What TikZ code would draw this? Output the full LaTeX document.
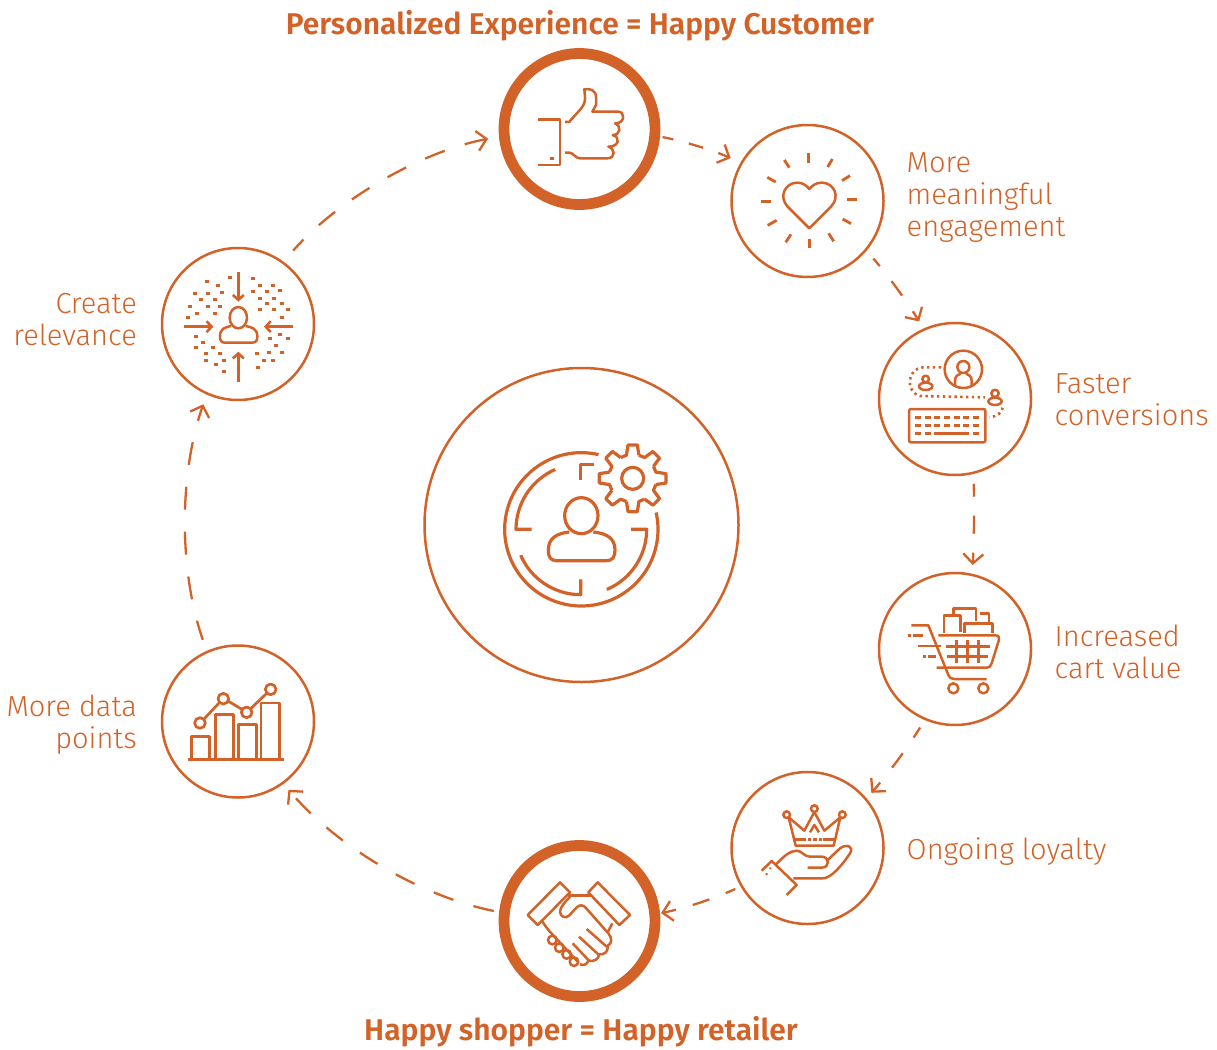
\documentclass[tikz,border=0pt]{standalone}
\usepackage{fontspec}
\setmainfont{Fira Sans Light}
\newfontfamily\headfont{Fira Sans SemiBold}
\usetikzlibrary{arrows.meta,calc}
\definecolor{org}{HTML}{D26228}
\tikzset{
  ring/.style={circle,draw=org,line width=2.5pt,minimum size=152pt,inner sep=0pt,outer sep=0pt},
  thick ring/.style={circle,draw=org,line width=10.8pt,minimum size=151pt,inner sep=0pt,outer sep=0pt},
  conn/.style={draw=org,line width=2.3pt,-{Straight Barb[length=9.5pt,width=20pt,line width=2.3pt]},looseness=0.85},
  lab/.style={text=org,font=\fontsize{29}{32}\selectfont,inner sep=0pt},
  head/.style={text=org,font=\headfont\fontsize{30}{32}\selectfont,inner sep=0pt},
  ico/.style={draw=org,line width=2.5pt,line join=round,line cap=butt},
  zoomed/.style={x=0.33333pt,y=-0.33333pt},
}
\begin{document}
\begin{tikzpicture}[x=1pt,y=-1pt]
\useasboundingbox (0,0) rectangle (1217,1049);
% circles
\node[thick ring] (top) at (579.5,129) {};
\node[ring] (heart) at (807.5,201) {};
\node[ring] (faster) at (955,399) {};
\node[ring] (cart) at (955,649) {};
\node[ring] (crown) at (807.5,848) {};
\node[thick ring] (hand) at (579.5,921) {};
\node[ring] (data) at (238,721.5) {};
\node[ring] (rel) at (238,324) {};
\node[circle,draw=org,line width=2.5pt,minimum size=314pt,inner sep=0pt,outer sep=0pt] (hub) at (581.5,525) {};
% connectors
\draw[conn,dash pattern=on 15pt off 16pt,dash phase=4pt,shorten <=8pt,shorten >=12pt] (top.-5.5) to[bend left=6.5] (heart.150.5);
\draw[conn,dash pattern=on 18pt off 19pt,dash phase=8pt,shorten <=11.5pt,shorten >=9.5pt] (heart.-40.5) to[bend left=5] (faster.114.1);
\draw[conn,dash pattern=on 18pt off 19pt,dash phase=5pt,shorten <=11pt,shorten >=10pt] (faster.-76.9) to[bend left=2.5] (cart.77.2);
\draw[conn,dash pattern=on 18pt off 19pt,dash phase=6pt,shorten <=10pt,shorten >=8.5pt] (cart.-113.8) to[bend left=5] (crown.40.6);
\draw[conn,dash pattern=on 17.5pt off 17.5pt,dash phase=7pt,shorten <=7pt,shorten >=6.5pt] (crown.-150.4) to[bend left=6.6] (hand.5.5);
\draw[conn,dash pattern=on 21pt off 21pt,shorten <=10.8pt,shorten >=8.9pt] (hand.174.5) to[bend left=19] (data.-54.5);
\draw[conn,dash pattern=on 23pt off 22pt,dash phase=3pt,shorten <=13pt,shorten >=11.5pt] (data.114.5) to[bend left=19.2] (rel.-114.9);
\draw[conn,dash pattern=on 21pt off 21pt,dash phase=6pt,shorten <=16pt,shorten >=16.5pt] (rel.54.1) to[bend left=18.8] (top.185.5);
% labels
\node[head,anchor=base] (t1) at (580,35) {Personalized Experience = Happy Customer};
\node[head,anchor=base] (t2) at (581,1040) {Happy shopper = Happy retailer};
\node[lab,anchor=north west,align=left] (l1) at (906.5,152) {More\\meaningful\\engagement};
\node[lab,anchor=north west,align=left] (l2) at (1054.5,373) {Faster\\conversions};
\node[lab,anchor=north west,align=left] (l3) at (1054.5,625) {Increased\\cart value};
\node[lab,anchor=north west,align=left] (l4) at (906.5,837) {Ongoing loyalty};
\node[lab,anchor=north east,align=right] (l5) at (137,695) {More data\\points};
\node[lab,anchor=north east,align=right] (l6) at (137,293) {Create\\relevance};
% thumb + heart (zoom 1)
\begin{scope}[shift={(490,40)},zoomed]
\draw[ico] (144,238)--(210,238)--(210,375)--(144,375);
\fill[org] (180,351) rectangle (191,359);
\draw[ico] (225,246)--(238,246) .. controls (250,228) and (280,205) .. (284,185) .. controls (287,170) and (283,160) .. (283,148) .. controls (300,145) and (318,150) .. (318,172) -- (318,195) -- (307,215) -- (385,215) .. controls (405,215) and (407,250) .. (375,250) .. controls (395,258) and (392,285) .. (368,285) .. controls (392,292) and (388,320) .. (355,320) .. controls (375,325) and (378,355) .. (352,355) -- (270,355) .. controls (255,355) and (250,338) .. (238,338) -- (225,338);
\draw[ico] (958,565)--(893,500) .. controls (865,470) and (885,428) .. (922,428) .. controls (940,428) and (950,438) .. (958,447) .. controls (966,438) and (976,428) .. (995,428) .. controls (1032,428) and (1052,470) .. (1023,500) -- cycle;
\foreach \a/\b/\c/\d in {955/340/955/368,883/360/898/383,1027/357/1013/381,832/412/857/426,1080/407/1056/422,814/484/843/484,1072/478/1101/478,833/556/860/541,1083/551/1058/537,887/607/903/583,1031/604/1016/580,959/597/959/625}
  \draw[ico,line width=2.8pt] (\a,\b)--(\c,\d);
\end{scope}
% keyboard (zoom 2)
\begin{scope}[shift={(870,315)},zoomed]
\draw[ico] (280,163) circle[radius=56];
\draw[ico] (280,156) circle[radius=18];
\draw[ico] (255,215)--(255,197) .. controls (255,183) and (265,178) .. (272,176);
\draw[ico] (305,215)--(305,197) .. controls (305,183) and (295,178) .. (288,176);
\draw[ico] (167,192) circle[radius=10];
\draw[ico] (167,214) ellipse[x radius=20,y radius=11];
\draw[ico] (375,235) circle[radius=11];
\draw[ico] (375,259) ellipse[x radius=20,y radius=11];
\draw[org,line width=2.6pt,dash pattern=on 2.4pt off 3.4pt] (213,157)--(160,157) .. controls (110,160) and (105,230) .. (150,243) -- (345,247);
\draw[org,line width=2.6pt,dash pattern=on 2.4pt off 3.4pt] (398,278) .. controls (395,295) and (380,305) .. (358,306);
\draw[ico,rounded corners=2pt] (117,282) rectangle (346,382);
\foreach \y in {307,331} \foreach \x in {135,165,193,222,252,280,310}
  \draw[ico,line width=3pt] (\x,\y)--++(18,0);
\foreach \x in {135,165,310} \draw[ico,line width=3pt] (\x,355)--++(18,0);
\draw[ico,line width=3pt] (193,355)--(297,355);
\end{scope}
% cart (zoom 3)
\begin{scope}[shift={(870,565)},zoomed]
\draw[ico] (124,181)--(175,181)--(235,330) .. controls (238,338) and (243,342) .. (252,342) -- (350,342);
\draw[ico] (205,211)--(375,211) .. controls (385,211) and (389,216) .. (387,224) -- (365,295) .. controls (362,304) and (358,308) .. (350,308) -- (200,308);
\foreach \x in {260,293,326} \draw[ico,line width=3pt] (\x,225)--(\x,293);
\draw[ico,line width=3pt] (228,243)--(360,243);
\draw[ico,line width=3pt] (232,274)--(353,274);
\draw[ico,line width=2.8pt] (115,211)--(122,211) (130,211)--(160,211) (145,243)--(212,243) (160,274)--(168,274) (175,274)--(198,274);
\draw[ico] (250,370) circle[radius=15];
\draw[ico] (340,370) circle[radius=15];
\draw[ico] (222,203)--(222,152)--(272,152)--(272,200);
\draw[ico] (251,150)--(251,130)--(318,130)--(318,167);
\draw[ico] (330,145)--(357,145)--(357,170);
\draw[ico] (283,203)--(283,176)--(368,176)--(368,205);
\end{scope}
% crown (zoom 9)
\begin{scope}[shift={(755,800)},zoomed]
\draw[ico] (95,44) circle[radius=10];
\draw[ico] (178,26) circle[radius=10];
\draw[ico] (262,44) circle[radius=10];
\draw[ico] (101,52)--(122,137)--(236,137)--(256,52)--(208,92)--(178,36)--(148,92)--cycle;
\draw[ico] (118,118)--(152,118) (205,118)--(240,118);
\draw[ico] (165,97)--(178,75)--(192,97);
\draw[ico] (158,118)--(168,118) (175,118)--(185,118) (192,118)--(202,118);
\draw[ico] (20,212)--(50,183)--(125,255)--(95,285);
\draw[ico] (63,193) .. controls (85,170) and (105,152) .. (125,152) .. controls (140,152) and (148,170) .. (165,170) -- (200,170) .. controls (225,170) and (225,203) .. (200,203) -- (158,203);
\draw[ico] (218,180)--(255,145) .. controls (275,130) and (298,140) .. (285,160) .. controls (265,190) and (240,220) .. (220,230) .. controls (212,235) and (208,235) .. (200,235) -- (115,235);
\fill[org] (43,202) rectangle (49,208) (32,219) rectangle (38,225);
\end{scope}
% handshake (zoom 8)
\begin{scope}[shift={(525,875)},zoomed]
\draw[ico] (8,120)--(105,22)--(135,52)--(38,150)--cycle;
\draw[ico] (218,22)--(315,120)--(283,150)--(190,52)--cycle;
\draw[ico] (128,62)--(197,62);
\draw[ico] (135,65) .. controls (120,80) and (105,98) .. (105,110) .. controls (105,125) and (122,132) .. (132,122) -- (155,97) .. controls (165,88) and (175,90) .. (182,98) -- (250,175) .. controls (262,190) and (262,205) .. (248,212) .. controls (250,228) and (240,240) .. (222,238) .. controls (222,250) and (210,262) .. (190,256) .. controls (188,268) and (175,273) .. (165,268);
\draw[ico] (262,145)--(248,172);
\draw[ico] (185,162)--(245,215);
\draw[ico] (162,185)--(222,240);
\draw[ico] (143,205)--(190,255);
\draw[ico] (52,140)--(70,165)--(160,262);
\foreach \x/\y in {82/195,103/218,125/238,147/260}
  \draw[ico] (\x,\y) circle[radius=13];
\end{scope}
% relevance (zoom 5)
\begin{scope}[shift={(155,240)},zoomed]
\draw[ico] (250,233) ellipse[x radius=26,y radius=32];
\draw[ico] (228,258) .. controls (210,262) and (195,265) .. (195,290) .. controls (195,303) and (200,308) .. (210,308) -- (290,308) .. controls (302,308) and (307,303) .. (307,290) .. controls (307,265) and (290,262) .. (272,258);
\foreach \a/\b/\c/\d in {250/97/250/185,250/425/250/335,87/260/175/260,413/260/327/260}
  \draw[ico,line width=2.8pt,-{Straight Barb[length=5pt,width=11pt,line width=2.6pt]}] (\a,\b)--(\c,\d);
\foreach \x/\y in {225/112,156/124,189/136,120/160,159/160,201/157,138/178,180/178,105/199,159/199,195/199,126/220,180/220,99/232,294/115,315/136,354/136,294/154,336/154,375/151,315/175,357/175,336/190,381/190,315/208,357/208,399/208,381/232,123/289,144/307,123/322,174/322,153/340,195/340,153/361,207/361,183/373,207/394,375/283,345/295,399/295,363/316,306/340,342/337,381/337,327/361,354/361,309/382}
  \fill[org] (\x-6,\y-4.5) rectangle (\x+6,\y+4.5);
\end{scope}
% data (zoom 6)
\begin{scope}[shift={(155,640)},zoomed]
\draw[ico,line width=3.2pt] (100,358)--(386,358);
\draw[ico,line width=2.7pt] (110,355)--(110,289)--(163,289)--(163,355);
\draw[ico,line width=2.7pt] (181,355)--(181,224)--(235,224)--(235,355);
\draw[ico,line width=2.7pt] (251,355)--(251,253)--(304,253)--(304,355);
\draw[ico,line width=2.7pt] (318,355)--(318,189)--(374,189)--(374,355);
\draw[ico,line width=2.7pt] (147,237)--(193,188) (219,183)--(261,208) (287,206)--(335,160);
\foreach \x/\y in {135/249,205/176,275/217,347/148}
  \draw[ico,line width=2.7pt] (\x,\y) circle[radius=16];
\end{scope}
% hub icon (zoom 7)
\begin{scope}[shift={(490,430)},zoomed]
\draw[ico,line width=3.2pt] (274,298)++(-77:230) arc[start angle=-77,end angle=-372.7,radius=230];
\draw[ico,line width=3.2pt] (274,298)++(-113.6:196) arc[start angle=-113.6,end angle=-180,radius=196] -- (125,298);
\draw[ico,line width=3.2pt] (272,150)--(272,103)--(313,103);
\draw[ico,line width=3.2pt] (423,298)--(470,298) arc[start angle=0,end angle=67,radius=196];
\draw[ico,line width=3.2pt] (272,448)--(272,494) arc[start angle=90,end angle=156.7,radius=196];
\draw[ico,line width=3.2pt] (274,257) ellipse[x radius=50,y radius=54];
\draw[ico,line width=3.2pt] (238,306) .. controls (200,310) and (175,325) .. (175,360) .. controls (175,380) and (180,392) .. (200,392) -- (350,392) .. controls (368,392) and (375,380) .. (375,360) .. controls (375,325) and (350,310) .. (310,306);
\draw[ico,line width=3.2pt] (428,145) circle[radius=33];
\begin{scope}[shift={(428,145)}]
\foreach \t in {0,45,...,315}
  \draw[ico,line width=3.2pt] (\t-30:72)--(\t-15:72)--(\t-8:101)--(\t+8:101)--(\t+15:72);
\end{scope}
\end{scope}
\end{tikzpicture}
\end{document}
